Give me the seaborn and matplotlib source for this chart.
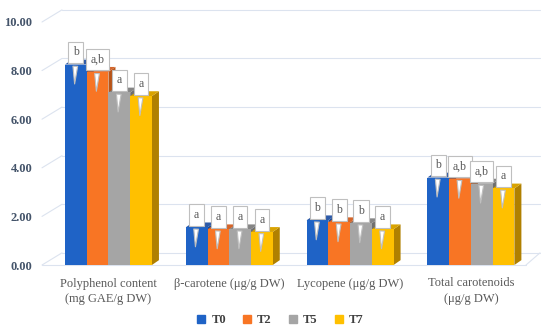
import matplotlib
matplotlib.use("Agg")
import matplotlib.pyplot as plt
from matplotlib.patches import Polygon
import seaborn as sns
import pandas as pd

categories = ["Polyphenol content\n(mg GAE/g DW)", "β-carotene (μg/g DW)",
              "Lycopene (μg/g DW)", "Total carotenoids\n(μg/g DW)"]
series = ["T0", "T2", "T5", "T7"]
t0 = [8.25, 1.55, 1.84, 3.60]
t2 = [7.95, 1.47, 1.76, 3.55]
t5 = [7.10, 1.47, 1.72, 3.35]
t7 = [6.95, 1.36, 1.47, 3.15]
letters_t0 = ["b", "a", "b", "b"]
letters_t2 = ["a,b", "a", "b", "a,b"]
letters_t5 = ["a", "a", "b", "a,b"]
letters_t7 = ["a", "a", "a", "a"]
yticks = [0, 2, 4, 6, 8, 10]

values = {"T0": t0, "T2": t2, "T5": t5, "T7": t7}
letters = {"T0": letters_t0, "T2": letters_t2, "T5": letters_t5, "T7": letters_t7}
df = pd.DataFrame([(c, s, values[s][i]) for s in series for i, c in enumerate(categories)],
                  columns=["category", "series", "value"])

front = {"T0": "#1F63C6", "T2": "#F87524", "T5": "#A5A5A5", "T7": "#FFC000"}
top_c = {"T0": "#2D5AA8", "T2": "#D4652A", "T5": "#858585", "T7": "#D9A300"}
side_c = {"T0": "#1A4A94", "T2": "#B85418", "T5": "#6F6F6F", "T7": "#B08000"}

sns.set_theme(style="white")
plt.rcParams["font.family"] = ["Liberation Serif", "DejaVu Serif"]

fig = plt.figure(figsize=(5.5, 3.29), dpi=100)
ax = fig.add_axes([42 / 550, (329 - 265) / 329, 498 / 550, 243 / 329])

sns.barplot(data=df, x="category", y="value", hue="series", palette=front,
            width=0.72, ax=ax, legend=False, saturation=1, edgecolor="none", zorder=5)

ax.set_xlim(-0.55, 3.572)
ax.set_ylim(0, 10)
for s in ax.spines.values():
    s.set_visible(False)
ax.set_xlabel("")
ax.set_ylabel("")
ax.set_yticks(yticks)
ax.set_yticklabels([f"{v:.2f}" for v in yticks], fontsize=9, fontweight="bold", color="#44546A")
ax.tick_params(axis="y", length=0, pad=7)
ax.tick_params(axis="x", length=0, pad=9)
ax.set_xticks(range(len(categories)))
ax.set_xticklabels(categories, fontsize=9, color="#595959", linespacing=1.35)

# back-wall gridlines with short diagonals (depth effect)
off = 0.5
xb = 20 / 498
trans = ax.get_yaxis_transform()
gc = "#DCE3EF"
for v in yticks:
    ax.plot([0, xb], [v, v + off], color=gc, lw=0.8, transform=trans, zorder=1, clip_on=False)
    ax.plot([xb, 1], [v + off, v + off], color=gc, lw=0.8, transform=trans, zorder=1, clip_on=False)
ax.plot([0, 484 / 498], [0, 0], color=gc, lw=0.8, transform=trans, zorder=1, clip_on=False)
ax.plot([484 / 498, 1], [0, off], color=gc, lw=0.8, transform=trans, zorder=1, clip_on=False)

# 3D side/top faces derived from the bar patches
dx, dy = 0.058, 0.2
bars = []
for s, cont in zip(series, ax.containers):
    for p in cont.patches:
        bars.append((p.get_x(), p.get_width(), p.get_height(), s))
for x0, w, h, s in bars:
    ax.add_patch(Polygon([(x0 + w, 0), (x0 + w + dx, dy), (x0 + w + dx, h + dy), (x0 + w, h)],
                         closed=True, fc=side_c[s], ec="none", zorder=3))
for x0, w, h, s in sorted(bars, key=lambda b: b[0]):
    ax.add_patch(Polygon([(x0, h), (x0 + dx, h + dy), (x0 + w + dx, h + dy), (x0 + w, h)],
                         closed=True, fc=top_c[s], ec="none", zorder=4))

# callout labels
for s, cont in zip(series, ax.containers):
    for i, p in enumerate(cont.patches):
        xc = p.get_x() + p.get_width() / 2
        h = p.get_height()
        ax.annotate(letters[s][i], xy=(xc - 0.01, h - 0.8), xytext=(xc, h + 0.5),
                    ha="center", va="center", fontsize=8.5, color="#595959", zorder=10,
                    bbox=dict(boxstyle="square,pad=0.4", fc="white", ec="#BFBFBF", lw=0.8),
                    arrowprops=dict(arrowstyle="wedge,tail_width=0.4,shrink_factor=0.5",
                                    fc="white", ec="#BFBFBF", lw=0.8, shrinkB=0))

# legend
handles = [plt.Line2D([0], [0], marker="s", ls="", markersize=6, color=front[s]) for s in series]
fig.legend(handles, series, loc="center", bbox_to_anchor=(280 / 550, 9 / 329), ncol=4,
           frameon=False, handlelength=0.8, handletextpad=0.4, columnspacing=1.3,
           prop={"family": ["Liberation Serif"], "weight": "bold", "size": 9},
           labelcolor="#404040")

fig.savefig("out.png", dpi=100)
